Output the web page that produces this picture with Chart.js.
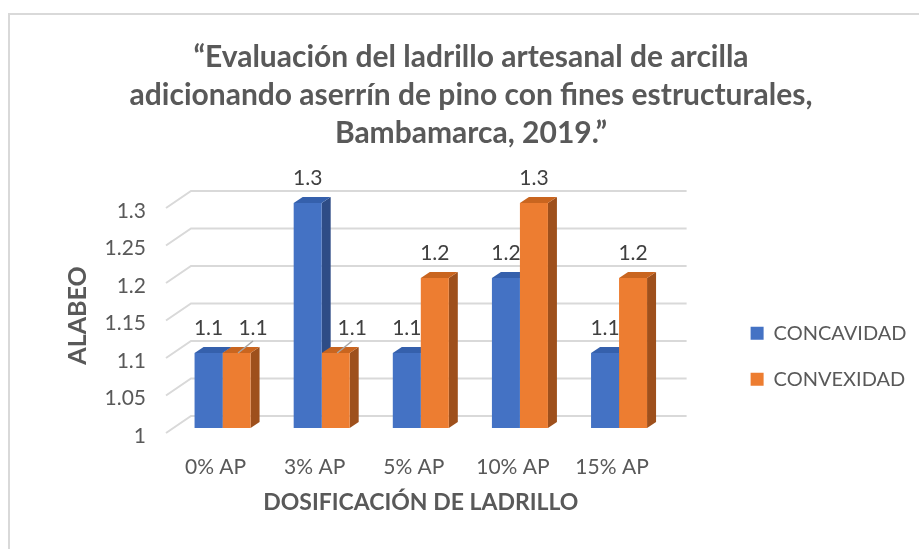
<!DOCTYPE html>
<html>
<head>
<meta charset="utf-8">
<script src="https://cdn.jsdelivr.net/npm/chart.js@4"></script>
<style>
	html, body { margin: 0; padding: 0; background: #fff; }
	#wrap { width: 919px; height: 549px; position: relative; }
</style>
</head>
<body>
<div id="wrap"><canvas id="chart"></canvas></div>
<script>
const categories = ['0% AP', '3% AP', '5% AP', '10% AP', '15% AP'];
const concavidad = [1.1, 1.3, 1.1, 1.2, 1.1];
const convexidad = [1.1, 1.1, 1.2, 1.3, 1.2];
const yMin = 1;
const yMax = 1.3;
const yStep = 0.05;

const FONT = 'Lato, Carlito, Calibri, sans-serif';
const DX = 9, DY = 6;
const faces = [
	{ front: '#4472C4', top: '#3560AC', side: '#2E4C86' },
	{ front: '#ED7D31', top: '#C9651F', side: '#9E501C' }
];

// light frame around the chart (continues past the right/bottom edge)
const frame = {
	id: 'frame',
	beforeDraw(chart) {
		const { ctx, width, height } = chart;
		ctx.save();
		ctx.strokeStyle = '#d9d9d9';
		ctx.lineWidth = 2;
		ctx.beginPath();
		ctx.moveTo(width, 14);
		ctx.lineTo(9, 14);
		ctx.lineTo(9, height);
		ctx.stroke();
		ctx.restore();
	}
};

// 3D look: back wall grid, bar sides and tops
const bars3d = {
	id: 'bars3d',
	beforeDatasetsDraw(chart) {
		const { ctx, chartArea, scales: { y } } = chart;
		ctx.save();
		ctx.strokeStyle = '#d9d9d9';
		ctx.lineWidth = 2;
		y.ticks.forEach(t => {
			const p = y.getPixelForValue(t.value);
			ctx.beginPath();
			ctx.moveTo(chartArea.left - 7, p + 5);
			ctx.lineTo(chartArea.left + 18, p - 12);
			ctx.lineTo(chartArea.right + 18, p - 12);
			ctx.stroke();
		});

		const base = chartArea.bottom;
		const metas = chart.data.datasets.map((d, i) => chart.getDatasetMeta(i));
		metas.forEach((meta, di) => {
			meta.data.forEach(bar => {
				const r = bar.x + bar.width / 2;
				ctx.fillStyle = faces[di].side;
				ctx.beginPath();
				ctx.moveTo(r, bar.y);
				ctx.lineTo(r + DX, bar.y - DY);
				ctx.lineTo(r + DX, base - DY);
				ctx.lineTo(r, base);
				ctx.closePath();
				ctx.fill();
			});
		});
		metas.forEach((meta, di) => {
			meta.data.forEach(bar => {
				const l = bar.x - bar.width / 2;
				const r = bar.x + bar.width / 2;
				ctx.fillStyle = faces[di].top;
				ctx.beginPath();
				ctx.moveTo(l, bar.y);
				ctx.lineTo(l + DX, bar.y - DY);
				ctx.lineTo(r + DX, bar.y - DY);
				ctx.lineTo(r, bar.y);
				ctx.closePath();
				ctx.fill();
			});
		});
		ctx.restore();
	},
	afterDatasetsDraw(chart) {
		const { ctx } = chart;
		ctx.save();
		ctx.font = '21px ' + FONT;
		ctx.textAlign = 'center';
		ctx.textBaseline = 'middle';
		chart.data.datasets.forEach((ds, di) => {
			chart.getDatasetMeta(di).data.forEach((bar, i) => {
				let x = bar.x;
				const v = ds.data[i];
				// second label moved aside when the first bar is as tall or taller
				if (di === 1 && concavidad[i] >= v) {
					ctx.strokeStyle = '#a6a6a6';
					ctx.lineWidth = 1.5;
					ctx.beginPath();
					ctx.moveTo(x + 1.5, bar.y);
					ctx.lineTo(x + 16.5, bar.y - 12);
					ctx.stroke();
					x += 16.5;
				}
				ctx.fillStyle = '#404040';
				ctx.fillText(String(v), x, bar.y - 25);
			});
		});
		ctx.restore();
	}
};

new Chart(document.getElementById('chart').getContext('2d'), {
	type: 'bar',
	data: {
		labels: categories,
		datasets: [{
			label: 'CONCAVIDAD',
			data: concavidad,
			backgroundColor: faces[0].front,
			borderWidth: 0
		}, {
			label: 'CONVEXIDAD',
			data: convexidad,
			backgroundColor: faces[1].front,
			borderWidth: 0
		}]
	},
	options: {
		responsive: true,
		maintainAspectRatio: false,
		animation: false,
		layout: { padding: { left: 25.5, right: 2.5, top: 0, bottom: 0 } },
		datasets: { bar: { categoryPercentage: 0.565, barPercentage: 1 } },
		scales: {
			x: {
				grid: { display: false, drawTicks: false },
				border: { display: false },
				ticks: { color: '#595959', font: { family: FONT, size: 21 }, padding: 27, labelOffset: -7 },
				title: {
					display: true,
					text: 'DOSIFICACIÓN DE LADRILLO',
					color: '#595959',
					font: { family: FONT, size: 23, weight: 'bold' },
					padding: { top: 0, bottom: 33 }
				},
				afterFit(s) { s.height = 121; }
			},
			y: {
				min: yMin,
				max: yMax,
				grid: { display: false, drawTicks: false },
				border: { display: false },
				ticks: {
					stepSize: yStep,
					padding: 27,
					labelOffset: 8,
					color: '#595959',
					font: { family: FONT, size: 21 },
					callback: v => String(Number(v.toFixed(2)))
				},
				title: {
					display: true,
					text: 'ALABEO',
					color: '#595959',
					font: { family: FONT, size: 25, weight: 'bold' },
					padding: { top: 37, bottom: 0 }
				},
				afterFit(s) { s.width = 147.5; }
			},
			gap: {
				type: 'linear',
				position: 'right',
				grid: { display: false, drawTicks: false },
				border: { display: false },
				ticks: { display: false },
				afterFit(s) { s.width = 56; }
			}
		},
		plugins: {
			title: {
				display: true,
				text: ['\u201cEvaluación del ladrillo artesanal de arcilla', 'adicionando aserrín de pino con fines estructurales,', 'Bambamarca, 2019.\u201d'],
				color: '#595959',
				font: { family: FONT, size: 30, weight: 'bold', lineHeight: 38 / 30 },
				padding: { top: 38, bottom: 51 }
			},
			legend: {
				position: 'right',
				align: 'start',
				fullSize: false,
				maxWidth: 300,
				title: { display: true, text: '', font: { size: 1 }, padding: { top: 93, bottom: 0 } },
				labels: { boxWidth: 13, boxHeight: 13, padding: 26, color: '#595959', font: { family: FONT, size: 20 } }
			},
			tooltip: { enabled: false }
		}
	},
	plugins: [frame, bars3d]
});
</script>
</body>
</html>
